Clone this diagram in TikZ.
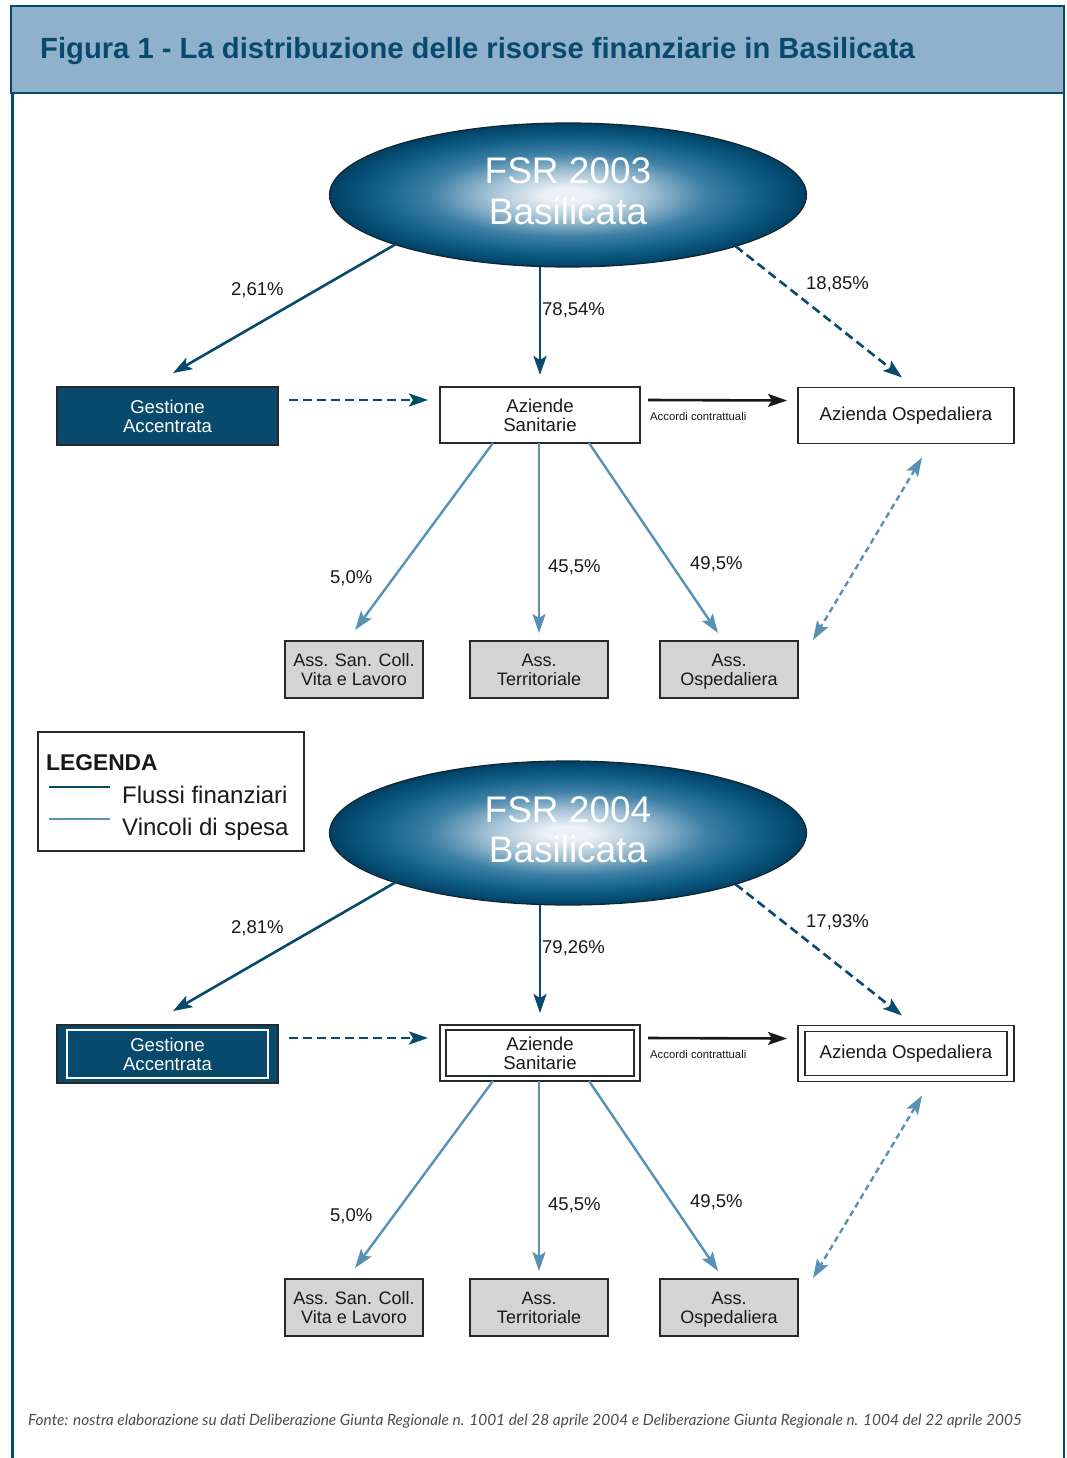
\documentclass[tikz,border=0pt]{standalone}
\usepackage{fontspec}
\setmainfont{Liberation Sans}
\newfontfamily\fsrFootFamily{Lato}
\usetikzlibrary{shapes.geometric,arrows.meta,calc}
\definecolor{dblue}{RGB}{8,73,110}
\definecolor{lblue}{RGB}{88,145,182}
\definecolor{titlebg}{RGB}{143,177,204}
\definecolor{boxgray}{RGB}{212,212,212}
\definecolor{boxline}{RGB}{40,40,40}
\definecolor{txt}{RGB}{25,25,25}
\definecolor{edgec}{RGB}{20,35,45}
\definecolor{ecenter}{RGB}{236,241,246}
\definecolor{emid}{RGB}{160,192,212}
\definecolor{eblue}{RGB}{62,128,165}
\definecolor{eblue2}{RGB}{16,96,136}
\definecolor{edark}{RGB}{0,64,100}
\pgfdeclareradialshading{fsrglow}{\pgfpoint{0bp}{0bp}}{color(0bp)=(ecenter); color(2.5bp)=(ecenter); color(8.5bp)=(emid); color(14.5bp)=(eblue); color(20bp)=(eblue2); color(25bp)=(edark); color(50bp)=(edark)}
\newcommand\fsrTitleFont{\fontsize{29.2}{33}\selectfont\bfseries}
\newcommand\fsrBig{\fontsize{37}{40}\selectfont}
\newcommand\fsrBoxFont{\fontsize{18.6}{19}\selectfont}
\newcommand\fsrSmallBox{\fontsize{18}{19}\selectfont}
\newcommand\fsrLab{\fontsize{18.5}{20}\selectfont}
\newcommand\fsrTiny{\fontsize{11.3}{13}\selectfont}

\newcommand\fsrblock[6]{%
 \node[ellipse, draw=edgec, line width=1.2pt, shading=fsrglow, minimum width=477, minimum height=144, inner sep=0, outer sep=0] (e#1) at (568,{195+#2}) {};
 \node[anchor=base, text=white, font=\fsrBig] (ta#1) at (568,{184+#2}) {FSR #3};
 \node[anchor=base, text=white, font=\fsrBig] (tb#1) at (568,{224+#2}) {Basilicata};
 \node[box, fill=dblue, text=white, minimum width=221, minimum height=58] (ga#1) at (167.5,{416+#2}) {Gestione\\Accentrata};
 \node[box, fill=white, minimum width=200, minimum height=56] (as#1) at (540,{415+#2}) {Aziende\\Sanitarie};
 \node[box, fill=white, minimum width=216, minimum height=56] (ao#1) at (906,{415.5+#2}) {Azienda Ospedaliera};
 \node[box, fill=boxgray, font=\fsrSmallBox, minimum width=138, minimum height=57] (ba#1) at (354,{669.5+#2}) {Ass. San. Coll.\\Vita e Lavoro};
 \node[box, fill=boxgray, font=\fsrSmallBox, minimum width=138, minimum height=57] (bb#1) at (539,{669.5+#2}) {Ass.\\Territoriale};
 \node[box, fill=boxgray, font=\fsrSmallBox, minimum width=138, minimum height=57] (bc#1) at (729,{669.5+#2}) {Ass.\\\smash{Ospedaliera}};
 \draw[fin] (e#1.196.8) -- ($(ga#1.north)+(5.5,-14)$);
 \draw[fin] (as#1.north |- e#1.south) -- ($(as#1.north)+(0,-12)$);
 \draw[fdash] (e#1.343.8) -- ($(ao#1.north)+(-4,-10)$);
 \draw[fdash] ($(ga#1.east)+(11,-16)$) -- ($(as#1.west)+(-12,-15)$);
 \draw[acc] ($(as#1.east)+(8,-15)$) -- ($(ao#1.west)+(-11,-15)$);
 \draw[vin] ($(as#1.south)+(-47,0)$) -- ($(ba#1.north)+(1,-11)$);
 \draw[vin] (bb#1.north |- as#1.south) -- ($(bb#1.north)+(0,-8)$);
 \draw[vin] ($(as#1.south)+(49,0)$) -- ($(bc#1.north)+(-11,-8)$);
 \draw[vdash] ($(ao#1.south)+(16,14)$) -- ($(bc#1.north east)+(15,-1)$);
 \node[lab] (la#1) at (231,{295+#2}) {#4};
 \node[lab] (lb#1) at (542,{315+#2}) {#5};
 \node[lab] (lc#1) at (806,{289+#2}) {#6};
 \node[lab, font=\fsrTiny] (ld#1) at (650,{420+#2}) {Accordi contrattuali};
 \node[lab] (le#1) at (330,{583+#2}) {5,0\%};
 \node[lab] (lf#1) at (548,{572+#2}) {45,5\%};
 \node[lab] (lg#1) at (690,{569+#2}) {49,5\%};
}

\begin{document}
\begin{tikzpicture}[x=1pt,y=-1pt,
 >={Stealth[length=19pt,width=13pt,inset=4pt]},
 box/.style={draw=boxline, line width=1.2pt, inner sep=0pt, outer sep=0pt, align=center, font=\fsrBoxFont, text=txt},
 fin/.style={draw=dblue, line width=2.6pt, ->},
 fdash/.style={fin, dash pattern=on 9pt off 5pt},
 acc/.style={draw=black!90, line width=2.6pt, ->},
 vin/.style={draw=lblue, line width=2.4pt, ->},
 vdash/.style={draw=lblue, line width=2.4pt, <->, dash pattern=on 6pt off 4pt},
 lab/.style={anchor=base west, inner sep=0pt, font=\fsrLab, text=txt}]
\useasboundingbox (0,0) rectangle (1066,1458);
\fill[white] (0,0) rectangle (1066,1458);
% frame
\draw[dblue, line width=3pt] (12,6) -- (12,1458);
\draw[dblue, line width=1.5pt] (1064,6) -- (1064,1458);
\draw[dblue, line width=2pt, fill=titlebg] (11,6) rectangle (1064,93);
\node[anchor=base west, inner sep=0pt, font=\fsrTitleFont, text=dblue] (title) at (40,59) {Figura 1 - La distribuzione delle risorse finanziarie in Basilicata};

\fsrblock{a}{0}{2003}{2,61\%}{78,54\%}{18,85\%}
\fsrblock{b}{638}{2004}{2,81\%}{79,26\%}{17,93\%}

% double borders in the second diagram
\draw[white, line width=1.2pt] ($(gab.north west)+(10,5)$) rectangle ($(gab.south east)+(-10,-5)$);
\draw[boxline, line width=1.2pt] ($(asb.north west)+(6,5)$) rectangle ($(asb.south east)+(-6,-5)$);
\draw[boxline, line width=1.2pt] ($(aob.north west)+(7,6)$) rectangle ($(aob.south east)+(-7,-6)$);

% legend
\node[draw=boxline, line width=1.2pt, minimum width=266, minimum height=119, inner sep=0pt] (leg) at (171,791.5) {};
\node[anchor=base west, inner sep=0pt, font=\fontsize{22.8}{24}\selectfont\bfseries, text=txt] (legt) at (46,770) {LEGENDA};
\draw[dblue, line width=2.6pt] (49,787) -- (110,787);
\draw[lblue, line width=2.6pt] (49,819) -- (110,819);
\node[anchor=base west, inner sep=0pt, font=\fontsize{24}{26}\selectfont, text=txt] (legf) at (122,803) {Flussi finanziari};
\node[anchor=base west, inner sep=0pt, font=\fontsize{24}{26}\selectfont, text=txt] (legv) at (122,835) {Vincoli di spesa};

% source
\node[anchor=base west, inner sep=0pt, font=\fsrFootFamily\itshape\fontsize{15.45}{18}\selectfont, text=black!70] (src) at (28,1425) {Fonte: nostra elaborazione su dati Deliberazione Giunta Regionale n. 1001 del 28 aprile 2004 e Deliberazione Giunta Regionale n. 1004 del 22 aprile 2005};
\end{tikzpicture}
\end{document}
